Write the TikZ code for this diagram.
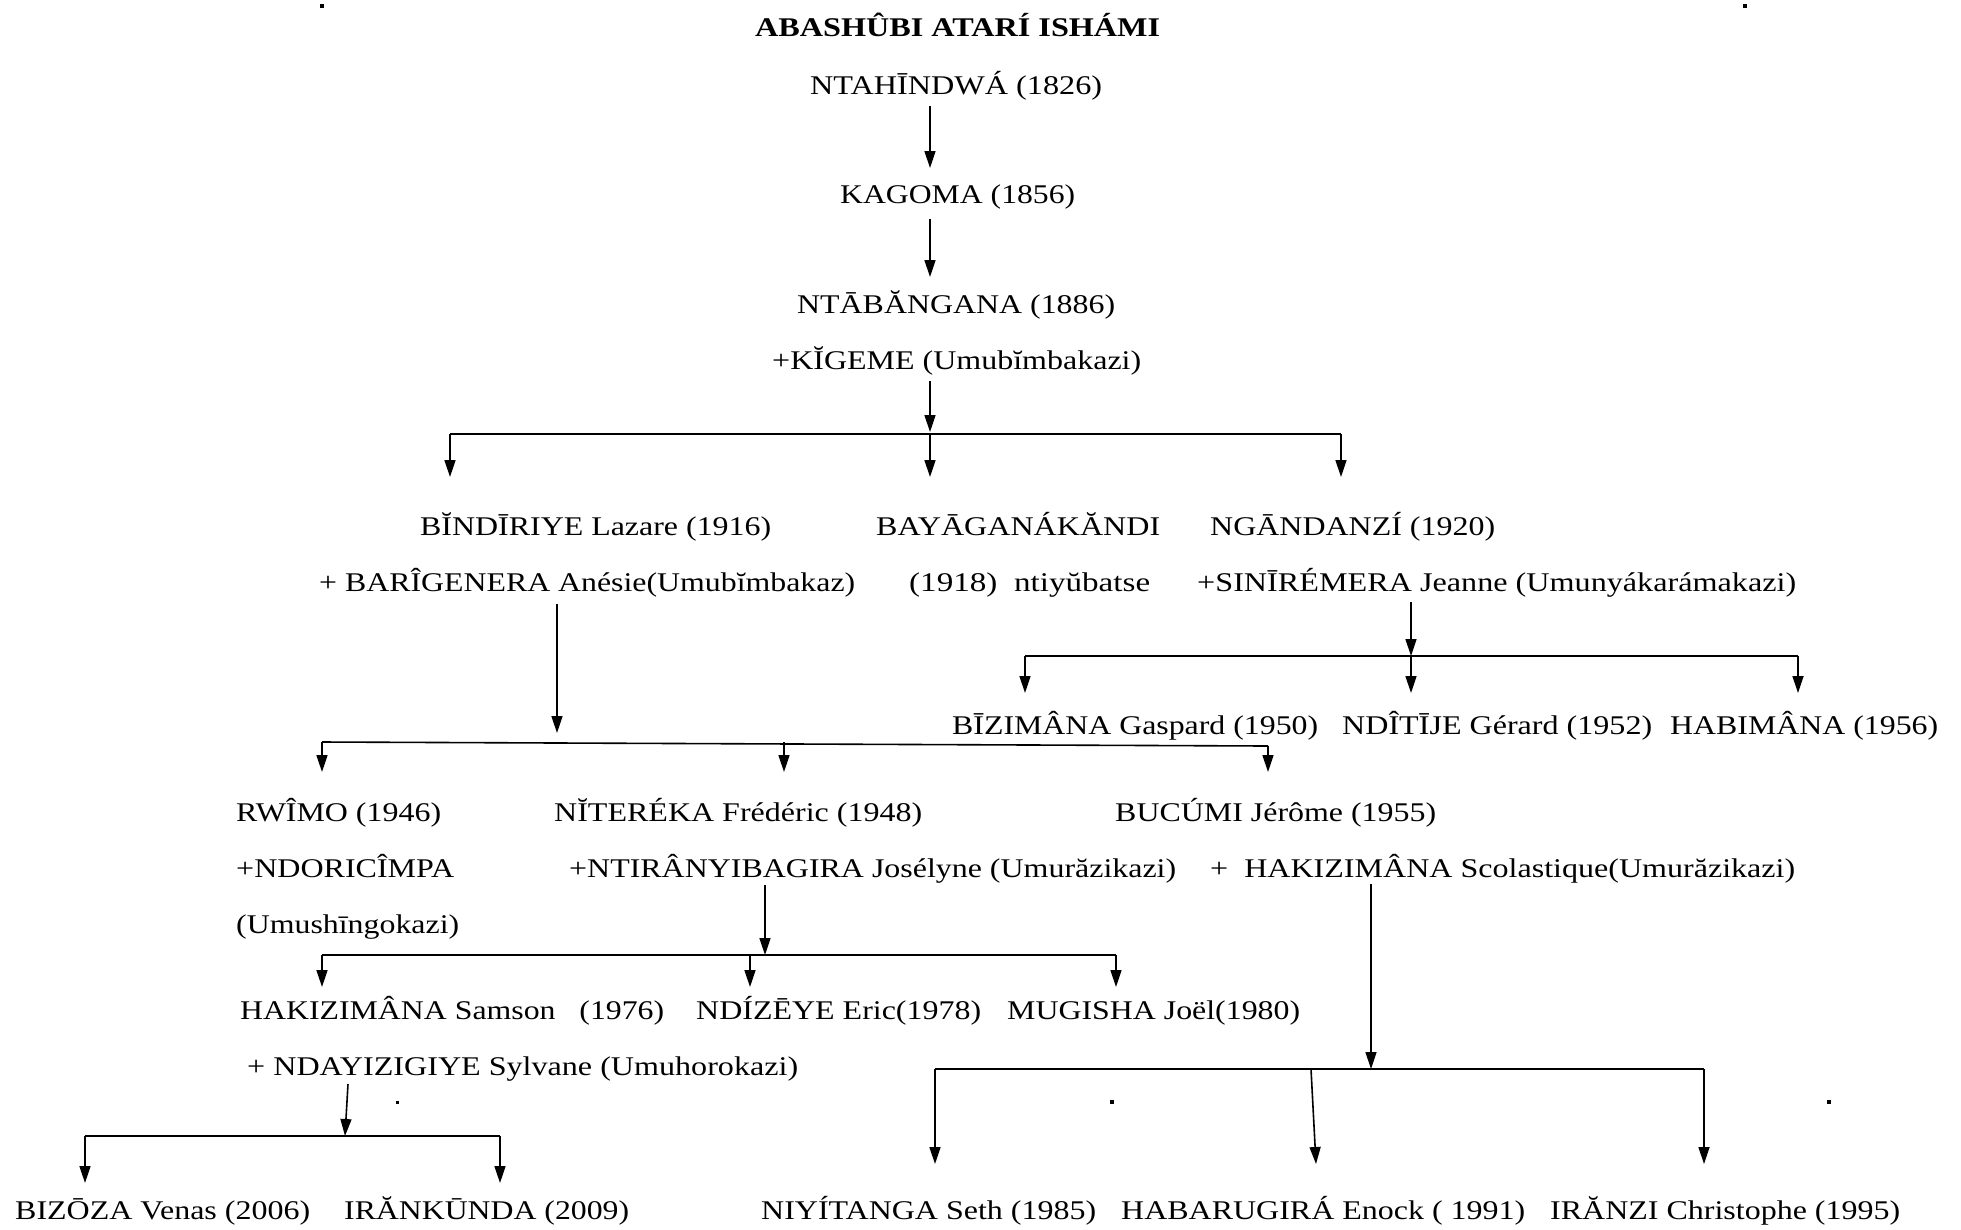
\documentclass[tikz,border=0pt]{standalone}
\usepackage{fontspec}
\setmainfont{Liberation Serif}
\usepackage{graphicx}
\usetikzlibrary{arrows.meta}
\newcommand{\fw}[2]{\resizebox{#1pt}{\height}{#2}}
\tikzset{
  lbl/.style={anchor=base west,inner sep=0pt,font=\fontsize{27}{32}\selectfont},
  ttl/.style={anchor=base west,inner sep=0pt,font=\fontsize{27}{32}\selectfont\bfseries},
  arr/.style={line width=1.6pt,-{Triangle[width=11pt,length=17pt]}},
  bus/.style={line width=1.6pt},
  speck/.style={fill=black,inner sep=0pt,minimum size=4pt,shape=rectangle}
}
\begin{document}
\begin{tikzpicture}[x=1pt,y=-1pt]
\useasboundingbox (0,0) rectangle (1961,1229);
% ---- texts ----
\node[ttl] (title) at (755,36) {\fw{405}{ABASHÛBI ATARÍ ISHÁMI}};
\node[lbl] (n1) at (810,94) {\fw{292}{NTAHĪNDWÁ (1826)}};
\node[lbl] (n2) at (840,203) {\fw{235}{KAGOMA (1856)}};
\node[lbl] (n3) at (797,313) {\fw{318}{NTĀBĂNGANA (1886)}};
\node[lbl] (n3s) at (772,369) {\fw{369}{+KĬGEME (Umubĭmbakazi)}};
\node[lbl] (b1) at (420,535) {\fw{351}{BĬNDĪRIYE Lazare (1916)}};
\node[lbl] (b1s) at (319,591) {\fw{536}{+ BARÎGENERA Anésie(Umubĭmbakaz)}};
\node[lbl] (b2) at (876,535) {\fw{284}{BAYĀGANÁKĂNDI}};
\node[lbl] (b2s) at (909,591) {\fw{241}{(1918)\ \ ntiyŭbatse}};
\node[lbl] (b3) at (1210,535) {\fw{285}{NGĀNDANZÍ (1920)}};
\node[lbl] (b3s) at (1197,591) {\fw{599}{+SINĪRÉMERA Jeanne (Umunyákarámakazi)}};
\node[lbl] (g1) at (952,734) {\fw{366}{BĪZIMÂNA Gaspard (1950)}};
\node[lbl] (g2) at (1342,734) {\fw{310}{NDÎTĪJE Gérard (1952)}};
\node[lbl] (g3) at (1670,734) {\fw{268}{HABIMÂNA (1956)}};
\node[lbl] (c1) at (236,821) {\fw{205}{RWÎMO (1946)}};
\node[lbl] (c1s) at (236,877) {\fw{218}{+NDORICÎMPA}};
\node[lbl] (c1t) at (236,933) {\fw{223}{(Umushīngokazi)}};
\node[lbl] (c2) at (554,821) {\fw{368}{NĬTERÉKA Frédéric (1948)}};
\node[lbl] (c2s) at (569,877) {\fw{607}{+NTIRÂNYIBAGIRA Josélyne (Umurăzikazi)}};
\node[lbl] (c3) at (1115,821) {\fw{321}{BUCÚMI Jérôme (1955)}};
\node[lbl] (c3s) at (1210,877) {\fw{585}{+\ \ HAKIZIMÂNA Scolastique(Umurăzikazi)}};
\node[lbl] (d1) at (240,1019) {\fw{424}{HAKIZIMÂNA Samson\ \ \ (1976)}};
\node[lbl] (d2) at (696,1019) {\fw{285}{NDÍZĒYE Eric(1978)}};
\node[lbl] (d3) at (1007,1019) {\fw{293}{MUGISHA Joël(1980)}};
\node[lbl] (d1s) at (247,1075) {\fw{551}{+ NDAYIZIGIYE Sylvane (Umuhorokazi)}};
\node[lbl] (e1) at (15,1219) {\fw{295}{BIZŌZA Venas (2006)}};
\node[lbl] (e2) at (344,1219) {\fw{285}{IRĂNKŪNDA (2009)}};
\node[lbl] (f1) at (761,1219) {\fw{335}{NIYÍTANGA Seth (1985)}};
\node[lbl] (f2) at (1121,1219) {\fw{404}{HABARUGIRÁ Enock ( 1991)}};
\node[lbl] (f3) at (1550,1219) {\fw{350}{IRĂNZI Christophe (1995)}};
% ---- connector points ----
\coordinate (p1a) at (930,106);  \coordinate (p1b) at (930,168);
\coordinate (p2a) at (930,219);  \coordinate (p2b) at (930,277);
\coordinate (p3a) at (930,381);  \coordinate (p3b) at (930,432);
\coordinate (bus1L) at (450,434); \coordinate (bus1R) at (1341,434);
\coordinate (t1a) at (450,477); \coordinate (t1b) at (930,477); \coordinate (t1c) at (1341,477);
\coordinate (p4a) at (557,604);  \coordinate (p4b) at (557,733);
\coordinate (bus2L) at (322,742); \coordinate (bus2R) at (1268,746);
\coordinate (t2a) at (322,772); \coordinate (t2b) at (784,772); \coordinate (t2c) at (1268,772);
\coordinate (p5a) at (1411,602); \coordinate (p5b) at (1411,656);
\coordinate (bus3L) at (1025,656); \coordinate (bus3R) at (1798,656);
\coordinate (t3a) at (1025,693); \coordinate (t3b) at (1411,693); \coordinate (t3c) at (1798,693);
\coordinate (p6a) at (765,885);  \coordinate (p6b) at (765,955);
\coordinate (bus4L) at (322,955); \coordinate (bus4R) at (1116,955);
\coordinate (t4a) at (322,987); \coordinate (t4b) at (750,987); \coordinate (t4c) at (1116,987);
\coordinate (p7a) at (348,1084); \coordinate (p7b) at (345,1136);
\coordinate (bus5L) at (85,1136); \coordinate (bus5R) at (500,1136);
\coordinate (t5a) at (85,1183); \coordinate (t5b) at (500,1183);
\coordinate (p8a) at (1371,884); \coordinate (p8b) at (1371,1069);
\coordinate (bus6L) at (935,1069); \coordinate (bus6R) at (1704,1069);
\coordinate (t6a) at (935,1164); \coordinate (t6b0) at (1311,1069); \coordinate (t6b) at (1316,1164); \coordinate (t6c) at (1704,1164);
% ---- connectors ----
\draw[arr] (p1a) -- (p1b);
\draw[arr] (p2a) -- (p2b);
\draw[arr] (p3a) -- (p3b);
\draw[bus] (t1a |- bus1L) -- (bus1L) -- (bus1R);
\draw[arr] (bus1L) -- (t1a);
\draw[arr] (t1b |- bus1L) -- (t1b);
\draw[arr] (bus1R) -- (t1c);
\draw[arr] (p4a) -- (p4b);
\draw[bus] (bus2L) -- (bus2R);
\draw[arr] (bus2L) -- (t2a);
\draw[arr] (t2b |- bus2L) -- (t2b);
\draw[arr] (bus2R) -- (t2c);
\draw[arr] (p5a) -- (p5b);
\draw[bus] (bus3L) -- (bus3R);
\draw[arr] (bus3L) -- (t3a);
\draw[arr] (t3b |- bus3L) -- (t3b);
\draw[arr] (bus3R) -- (t3c);
\draw[arr] (p6a) -- (p6b);
\draw[bus] (bus4L) -- (bus4R);
\draw[arr] (bus4L) -- (t4a);
\draw[arr] (t4b |- bus4L) -- (t4b);
\draw[arr] (bus4R) -- (t4c);
\draw[arr] (p7a) -- (p7b);
\draw[bus] (bus5L) -- (bus5R);
\draw[arr] (bus5L) -- (t5a);
\draw[arr] (bus5R) -- (t5b);
\draw[arr] (p8a) -- (p8b);
\draw[bus] (bus6L) -- (bus6R);
\draw[arr] (bus6L) -- (t6a);
\draw[arr] (t6b0) -- (t6b);
\draw[arr] (bus6R) -- (t6c);
% ---- scan specks ----
\node[speck] (s1) at (322,6) {};
\node[speck] (s2) at (1745,6) {};
\node[speck] (s3) at (1112,1102) {};
\node[speck] (s4) at (1829,1102) {};
\node[speck,minimum size=3pt] (s5) at (397,1102) {};
\end{tikzpicture}
\end{document}
